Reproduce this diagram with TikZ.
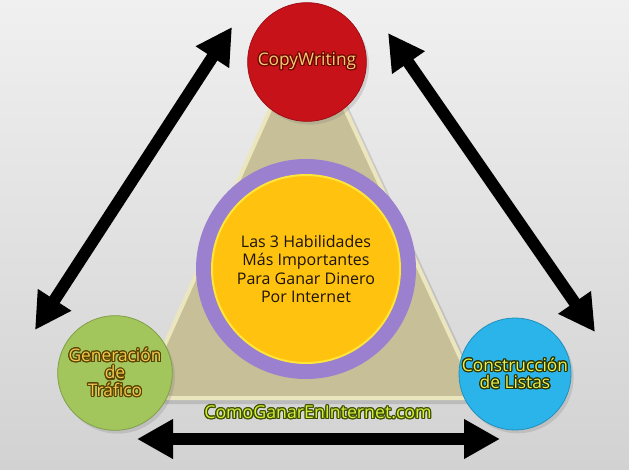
\documentclass[tikz,border=0pt]{standalone}
\usepackage{fontspec}
\setmainfont{Open Sans}
\usepackage{contour}
\contourlength{0.85pt}
\usepackage{tikz}
\usetikzlibrary{arrows.meta}
\usetikzlibrary{shadows}
\usetikzlibrary{positioning}
\definecolor{BgTop}{HTML}{F0F0F0}
\definecolor{BgBottom}{HTML}{D2D2D2}
\definecolor{RedBall}{HTML}{C8121A}
\definecolor{GreenBall}{HTML}{A2C65C}
\definecolor{BlueBall}{HTML}{2AB4EA}
\definecolor{TriFill}{HTML}{C7BF98}
\definecolor{TriRim}{HTML}{ECE6BE}
\definecolor{RingPurple}{HTML}{9A80CF}
\definecolor{HubYellow}{HTML}{FFC20E}
\definecolor{HubRim}{HTML}{FFE53A}
\definecolor{CopyText}{HTML}{F7C872}
\definecolor{CopyLine}{HTML}{6E0800}
\definecolor{GreenText}{HTML}{F0C84E}
\definecolor{GreenLine}{HTML}{5A4200}
\definecolor{BlueText}{HTML}{E6F050}
\definecolor{BlueLine}{HTML}{2E3300}
\definecolor{SiteText}{HTML}{D4F03C}
\definecolor{SiteLine}{HTML}{405000}

\begin{document}
\begin{tikzpicture}[x=0.75pt, y=-0.75pt,
        ball/.style={circle, draw=#1!80!black, line width=0.6pt, fill=#1, minimum size=86pt, inner sep=0pt, align=center,
            font=\fontsize{13}{13}\selectfont, drop shadow={opacity=0.25, shadow xshift=2pt, shadow yshift=-2.5pt}},
        hub/.style={circle, draw=RingPurple, line width=12pt, fill=HubYellow, minimum size=153pt, inner sep=0pt, align=center,
            font=\fontsize{12}{13.6}\selectfont, text=black!85!brown},
        arrow/.style={line width=9pt, {Triangle[length=27pt,width=28pt]}-{Triangle[length=27pt,width=28pt]}}
    ]
    \useasboundingbox (0,0) rectangle (629,469);
    \shade[top color=BgTop, bottom color=BgBottom] (0,0) rectangle (629,469);

    \coordinate (apex) at (307,27);
    \coordinate (baseL) at (141,398);
    \coordinate (baseR) at (479,398);
    \fill[black, opacity=0.12] ([shift={(7,6)}]apex) -- ([shift={(7,6)}]baseL) -- ([shift={(7,6)}]baseR) -- cycle;
    \filldraw[fill=TriFill, draw=TriRim, line width=3pt, line join=round] (apex) -- (baseL) -- (baseR) -- cycle;

    \node[hub] (hub) at (306,269) {Las 3 Habilidades\\Más Importantes\\Para Ganar Dinero\\Por Internet};
    \draw[HubRim, line width=1.5pt] (hub.center) circle (94);

    \node[ball=RedBall, minimum size=89pt, text=CopyText] (copy) at (307,62) {\contour{CopyLine}{CopyWriting}};
    \node[ball=GreenBall, text=GreenText] (traffic) at (115,373) {\contour{GreenLine}{Generación}\\\contour{GreenLine}{de}\\\contour{GreenLine}{Tráfico}};
    \node[ball=BlueBall, minimum size=84pt, text=BlueText] (lists) at (515,374) {\contour{BlueLine}{Construcción}\\\contour{BlueLine}{de Listas}};

    \node[font=\fontsize{13.3}{14}\selectfont, text=SiteText] (site) at (318,413) {\contour{SiteLine}{ComoGanarEnInternet.com}};

    \coordinate (leftTop) at (232,27);
    \coordinate (leftBottom) at (35,330);
    \coordinate (rightTop) at (388,33);
    \coordinate (rightBottom) at (595,332);
    \coordinate (bottomLeft) at (137,439);
    \coordinate (bottomRight) at (500,439);
    \draw[arrow] (leftBottom) -- (leftTop);
    \draw[arrow] (rightTop) -- (rightBottom);
    \draw[arrow] (bottomLeft) -- (bottomRight);
\end{tikzpicture}
\end{document}
